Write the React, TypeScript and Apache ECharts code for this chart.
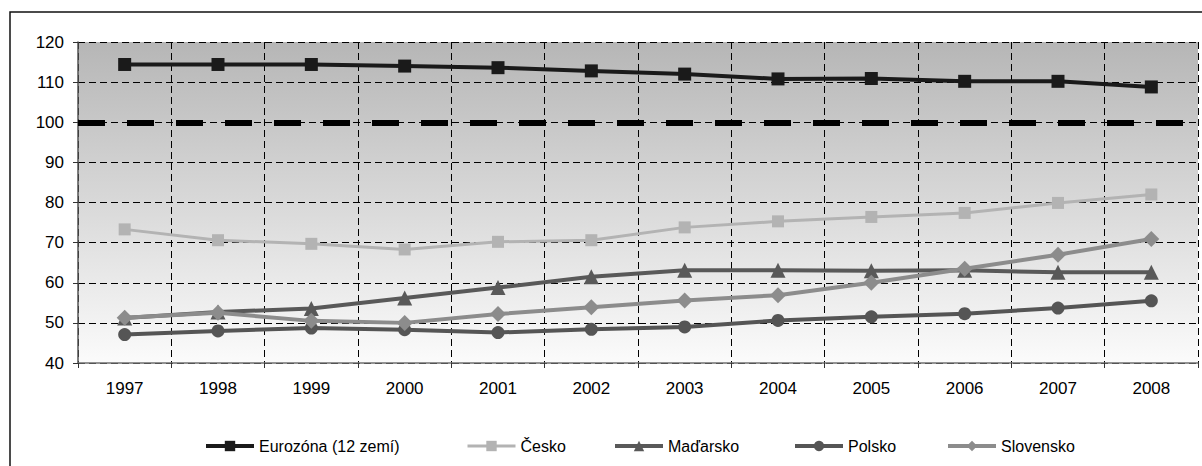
import React, { useEffect, useRef } from 'react';
import * as echarts from 'echarts';

const years = ['1997', '1998', '1999', '2000', '2001', '2002', '2003', '2004', '2005', '2006', '2007', '2008'];
const eurozona = [114.4, 114.4, 114.4, 114.0, 113.6, 112.8, 112.0, 110.8, 110.9, 110.2, 110.2, 108.8];
const cesko = [73.3, 70.6, 69.7, 68.3, 70.2, 70.6, 73.8, 75.3, 76.4, 77.4, 79.9, 82.0];
const madarsko = [51.2, 52.7, 53.6, 56.2, 58.8, 61.5, 63.1, 63.1, 63.0, 63.1, 62.6, 62.6];
const polsko = [47.1, 48.0, 48.7, 48.3, 47.6, 48.4, 49.0, 50.6, 51.5, 52.3, 53.7, 55.5];
const slovensko = [51.3, 52.5, 50.5, 50.0, 52.2, 53.9, 55.6, 56.9, 60.0, 63.5, 67.0, 70.9];
const referenceLevel = 100;
const yTicks = { min: 40, max: 120, interval: 10 };

const names = ['Eurozóna (12 zemí)', 'Česko', 'Maďarsko', 'Polsko', 'Slovensko'];
const legendLefts = [204, 466, 613, 793, 946];
const legendLineWidths = [4, 3, 4, 4, 4];

const FONT = 'Liberation Sans';

export default function App() {
  const ref = useRef<HTMLDivElement>(null);
  useEffect(() => {
    if (!ref.current) return;
    const chart = echarts.init(ref.current, null, { renderer: 'svg' });
    const dashed = { color: '#000', width: 1, type: [7, 4] as any };
    const mk = (name: string, data: number[], color: string, symbol: string, symbolSize: number, width: number, extra: any = {}) => ({
      type: 'line',
      name,
      data,
      symbol,
      symbolSize,
      showSymbol: true,
      lineStyle: { color, width },
      itemStyle: { color },
      ...extra,
    });
    chart.setOption({
      animation: false,
      backgroundColor: '#fff',
      textStyle: { fontFamily: FONT },
      graphic: [
        {
          type: 'rect',
          shape: { x: 10, y: 12, width: 1210, height: 500 },
          style: { fill: 'none', stroke: '#111', lineWidth: 1.5 },
          z: -1,
          silent: true,
        },
      ],
      grid: {
        left: 78,
        right: 4,
        top: 42,
        bottom: 103,
        show: true,
        borderWidth: 0,
        backgroundColor: new echarts.graphic.LinearGradient(0, 0, 0, 1, [
          { offset: 0, color: '#b6b6b6' },
          { offset: 1, color: '#fbfbfb' },
        ]),
      },
      legend: names.map((n, i) => ({
        data: [n],
        left: legendLefts[i],
        top: 438,
        itemWidth: 48,
        itemHeight: 13,
        itemGap: 0,
        padding: 0,
        lineStyle: { width: legendLineWidths[i] },
        textStyle: { fontSize: 16, color: '#000', fontFamily: FONT },
      })),
      xAxis: {
        type: 'category',
        data: years,
        boundaryGap: true,
        axisLine: { lineStyle: { color: '#707070', width: 1.5 } },
        axisTick: { show: true, length: 5, interval: 0, lineStyle: { color: '#333' } },
        axisLabel: { interval: 0, fontSize: 17, color: '#000', margin: 17, fontFamily: FONT },
        splitLine: { show: true, interval: 0, lineStyle: dashed },
      },
      yAxis: {
        type: 'value',
        min: yTicks.min,
        max: yTicks.max,
        interval: yTicks.interval,
        axisLine: { show: true, lineStyle: { color: '#555', width: 1.5 } },
        axisTick: { show: true, length: 5, lineStyle: { color: '#333' } },
        axisLabel: { fontSize: 17, color: '#000', margin: 14, fontFamily: FONT },
        splitLine: { show: true, lineStyle: dashed },
      },
      series: [
        mk(names[0], eurozona, '#1a1a1a', 'rect', 13, 4, {
          markLine: {
            silent: true,
            symbol: ['none', 'none'],
            label: { show: false },
            lineStyle: { color: '#000', width: 6, type: [27, 22] as any },
            emphasis: { disabled: true },
            data: [{ yAxis: referenceLevel }],
          },
        }),
        mk(names[1], cesko, '#b3b3b3', 'rect', 12, 3),
        mk(names[2], madarsko, '#595959', 'triangle', 15, 4),
        mk(names[3], polsko, '#555555', 'circle', 13, 4),
        mk(names[4], slovensko, '#8c8c8c', 'diamond', 16, 4),
      ],
    });
    return () => chart.dispose();
  }, []);
  return <div ref={ref} style={{ position: 'absolute', left: 0, top: 0, width: 1202, height: 466 }} />;
}
